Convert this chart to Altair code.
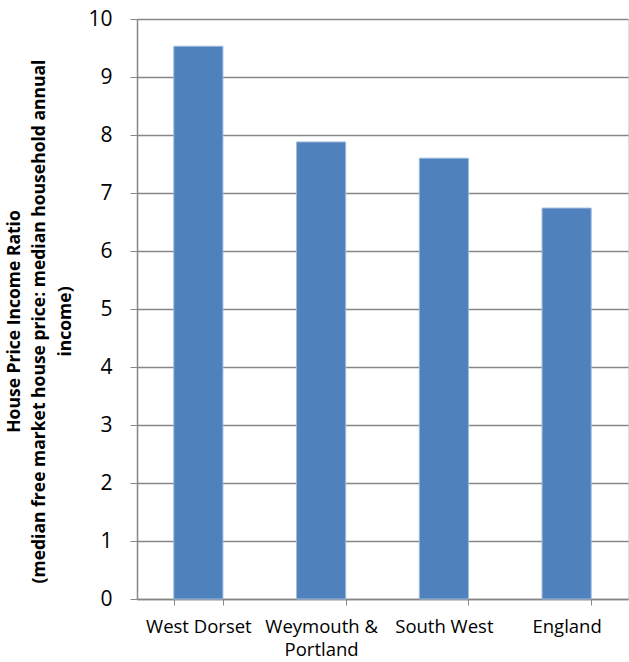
import altair as alt
import pandas as pd

# Affordability ratio by area
areas = ["West Dorset", "Weymouth & Portland", "South West", "England"]
ratios = [9.53, 7.88, 7.60, 6.74]

df = pd.DataFrame({"area": areas, "ratio": ratios})

grey = "#868686"
font = "Open Sans"

chart = (
    alt.Chart(df)
    .mark_bar(color="#4F81BD", stroke="#9DB9DF", strokeWidth=1)
    .encode(
        x=alt.X(
            "area:N",
            sort=areas,
            scale=alt.Scale(paddingInner=0.6, paddingOuter=0.3),
            axis=alt.Axis(
                title=None,
                labelAngle=0,
                labelFont=font,
                labelFontSize=18.5,
                labelColor="#000000",
                labelPadding=12,
                labelLineHeight=23,
                labelExpr="datum.label == 'Weymouth & Portland' ? ['Weymouth &', 'Portland'] : datum.label",
                tickBand="extent",
                tickColor=grey,
                tickSize=6,
                domainColor=grey,
                domainWidth=1.5,
                grid=False,
            ),
        ),
        y=alt.Y(
            "ratio:Q",
            scale=alt.Scale(domain=[0, 10], nice=False),
            axis=alt.Axis(
                values=list(range(0, 11)),
                title=[
                    "House Price Income Ratio",
                    "(median free market house price: median household annual",
                    "income)",
                ],
                titleFont=font,
                titleFontSize=17.5,
                titleFontWeight="bold",
                titleColor="#000000",
                titleAngle=-90,
                titleAlign="center",
                titleBaseline="top",
                titleLineHeight=25.5,
                titleX=-132,
                titleY=302,
                labelFont=font,
                labelFontSize=21,
                labelColor="#000000",
                labelPadding=18,
                tickColor=grey,
                tickSize=7,
                domainColor=grey,
                domainWidth=1.5,
                gridColor=grey,
                gridWidth=1.5,
            ),
        ),
    )
    .properties(
        width=491,
        height=580,
        autosize=alt.AutoSizeParams(type="none"),
        padding={"left": 137, "top": 19, "right": 1, "bottom": 63},
    )
    .configure_view(stroke=None)
    .configure(background="#ffffff")
)

chart.save("out.html", embed_options={"renderer": "svg", "actions": False})
